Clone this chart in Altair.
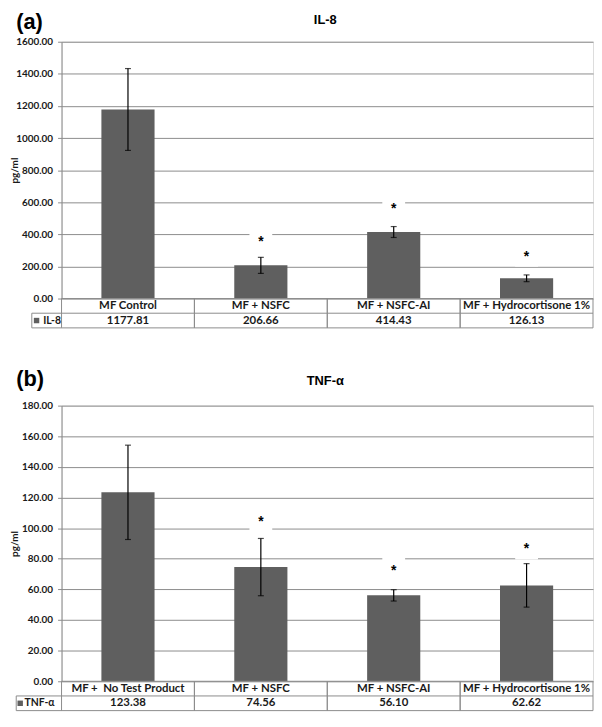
import altair as alt
import pandas as pd

# ---------------- data ----------------
il8_groups = ["MF Control", "MF + NSFC", "MF + NSFC-AI", "MF + Hydrocortisone 1%"]
il8_mean = [1177.81, 206.66, 414.43, 126.13]
il8_sd = [255.0, 50.0, 34.0, 21.0]
il8_star = [None, 374.0, 578.0, 282.0]
il8_ticks = [0, 200, 400, 600, 800, 1000, 1200, 1400, 1600]

tnf_groups = ["MF +\u00a0 No Test Product", "MF + NSFC", "MF + NSFC-AI", "MF + Hydrocortisone 1%"]
tnf_mean = [123.38, 74.56, 56.10, 62.62]
tnf_sd = [30.8, 18.7, 3.7, 14.2]
tnf_star = [None, 106.0, 74.4, 88.3]
tnf_ticks = [0, 20, 40, 60, 80, 100, 120, 140, 160, 180]

# ---------------- style ----------------
W = 536
GRID = "#8c8c8c"
BAR = "#5f5f5f"
INK = "#1a1a1a"
FONT = "Lato"
TFONT = "Liberation Sans"
ROW = 14.8


def panel(groups, mean, sd, star, ticks, ymax, series, letter, title,
          plot_h, cell_w, sq_x, lab_x, letter_y, title_y):
    df = pd.DataFrame({
        "group": groups,
        "mean": mean,
        "lo": [m - s for m, s in zip(mean, sd)],
        "hi": [m + s for m, s in zip(mean, sd)],
        "star": star,
        "val": [f"{m:.2f}" for m in mean],
    })
    xs = alt.Scale(paddingInner=0, paddingOuter=0)
    X = alt.X("group:N", sort=groups, scale=xs, axis=None)
    ys = alt.Scale(domain=[0, ymax], nice=False, zero=True)
    yaxis = alt.Axis(values=ticks, format=".2f", title="pg/ml", grid=True,
                     gridColor=GRID, gridWidth=1, domainColor=GRID, tickColor=GRID,
                     tickSize=4, labelPadding=5, labelFont=FONT, labelFontWeight="bold",
                     labelFontSize=10, labelColor=INK, titleFont=FONT,
                     titleFontWeight="bold", titleFontSize=10, titleColor=INK,
                     titleX=-42.7)

    def Y(f):
        return alt.Y(f"{f}:Q", scale=ys, axis=yaxis)

    base = alt.Chart(df)
    bars = base.mark_bar(color=BAR, width=alt.RelativeBandSize(0.4)).encode(x=X, y=Y("mean"))
    boxes = base.transform_filter("isValid(datum.star)").mark_point(
        shape="square", size=529, filled=True, color="white", opacity=1,
        strokeWidth=0, yOffset=2).encode(x=X, y=Y("star"))
    err = base.mark_rule(color="black", strokeWidth=1.2).encode(
        x=X, y=Y("lo"), y2=alt.Y2("hi:Q"))
    cap_hi = base.mark_tick(color="black", size=6, thickness=1.2).encode(x=X, y=Y("hi"))
    cap_lo = base.mark_tick(color="black", size=6, thickness=1.2).encode(x=X, y=Y("lo"))
    stars = base.transform_filter("isValid(datum.star)").mark_text(
        text="*", font=TFONT, fontSize=14, fontWeight="bold", color="black",
        baseline="alphabetic", dy=7.5).encode(x=X, y=Y("star"))

    letter_txt = alt.Chart(pd.DataFrame({"t": [letter]})).mark_text(
        font=TFONT, fontSize=22, fontWeight="bold", color="black",
        align="left", baseline="middle").encode(
        text="t:N", x=alt.value(-45.7), y=alt.value(letter_y))
    title_txt = alt.Chart(pd.DataFrame({"t": [title]})).mark_text(
        font=TFONT, fontSize=13, fontWeight="bold", color="black",
        align="center", baseline="middle").encode(
        text="t:N", x=alt.value(W / 2 - 2), y=alt.value(title_y))

    # ---- data table drawn beneath the plot area ----
    t0 = plot_h
    hdr = base.mark_text(font=FONT, fontSize=11.5, fontWeight="bold", color=INK,
                         baseline="middle").encode(x=X, y=alt.value(t0 + ROW / 2), text="group:N")
    vals = base.mark_text(font=FONT, fontSize=11.5, fontWeight="bold", color=INK,
                          baseline="middle").encode(x=X, y=alt.value(t0 + 1.5 * ROW), text="val:N")
    v0 = base.mark_rule(color=GRID).encode(
        x=alt.X("group:N", sort=groups, scale=xs, axis=None, bandPosition=0),
        y=alt.value(t0), y2=alt.value(t0 + 2 * ROW))
    v1 = base.mark_rule(color=GRID).encode(
        x=alt.X("group:N", sort=groups, scale=xs, axis=None, bandPosition=1),
        y=alt.value(t0), y2=alt.value(t0 + 2 * ROW))
    one = alt.Chart(pd.DataFrame({"k": [0]}))
    h_top = one.mark_rule(color=GRID).encode(x=alt.value(0), x2=alt.value(W), y=alt.value(t0))
    h_mid = one.mark_rule(color=GRID).encode(x=alt.value(-cell_w), x2=alt.value(W), y=alt.value(t0 + ROW))
    h_bot = one.mark_rule(color=GRID).encode(x=alt.value(-cell_w), x2=alt.value(W), y=alt.value(t0 + 2 * ROW))
    v_left = one.mark_rule(color=GRID).encode(x=alt.value(-cell_w), y=alt.value(t0 + ROW), y2=alt.value(t0 + 2 * ROW))
    sq = one.mark_point(shape="square", size=30, filled=True, color=BAR, opacity=1).encode(
        x=alt.value(sq_x), y=alt.value(t0 + 1.5 * ROW))
    ser = alt.Chart(pd.DataFrame({"s": [series]})).mark_text(
        font=FONT, fontSize=10.5, fontWeight="bold", color=INK, align="left",
        baseline="middle").encode(text="s:N", x=alt.value(lab_x), y=alt.value(t0 + 1.5 * ROW))

    return alt.layer(bars, boxes, err, cap_hi, cap_lo, stars, letter_txt, title_txt,
                     v0, v1, h_top, h_mid, h_bot, v_left, sq, ser, hdr, vals).properties(
        width=W, height=plot_h)


panel_a = panel(il8_groups, il8_mean, il8_sd, il8_star, il8_ticks, 1600, "IL-8", "(a)", "IL-8",
                259, 30, -25.2, -18.5, -19.5, -21.5)
panel_b = panel(tnf_groups, tnf_mean, tnf_sd, tnf_star, tnf_ticks, 180, "TNF-\u03b1", "(b)", "TNF-\u03b1",
                278, 45.7, -41.7, -37.4, -26.8, -24.3)

chart = alt.vconcat(panel_a, panel_b, spacing=38).properties(
    padding={"left": 0, "top": 0, "right": 0, "bottom": 0}
).configure_view(stroke=None).configure(background="white")

chart.save("out.html", embed_options={"renderer": "svg", "actions": False})
